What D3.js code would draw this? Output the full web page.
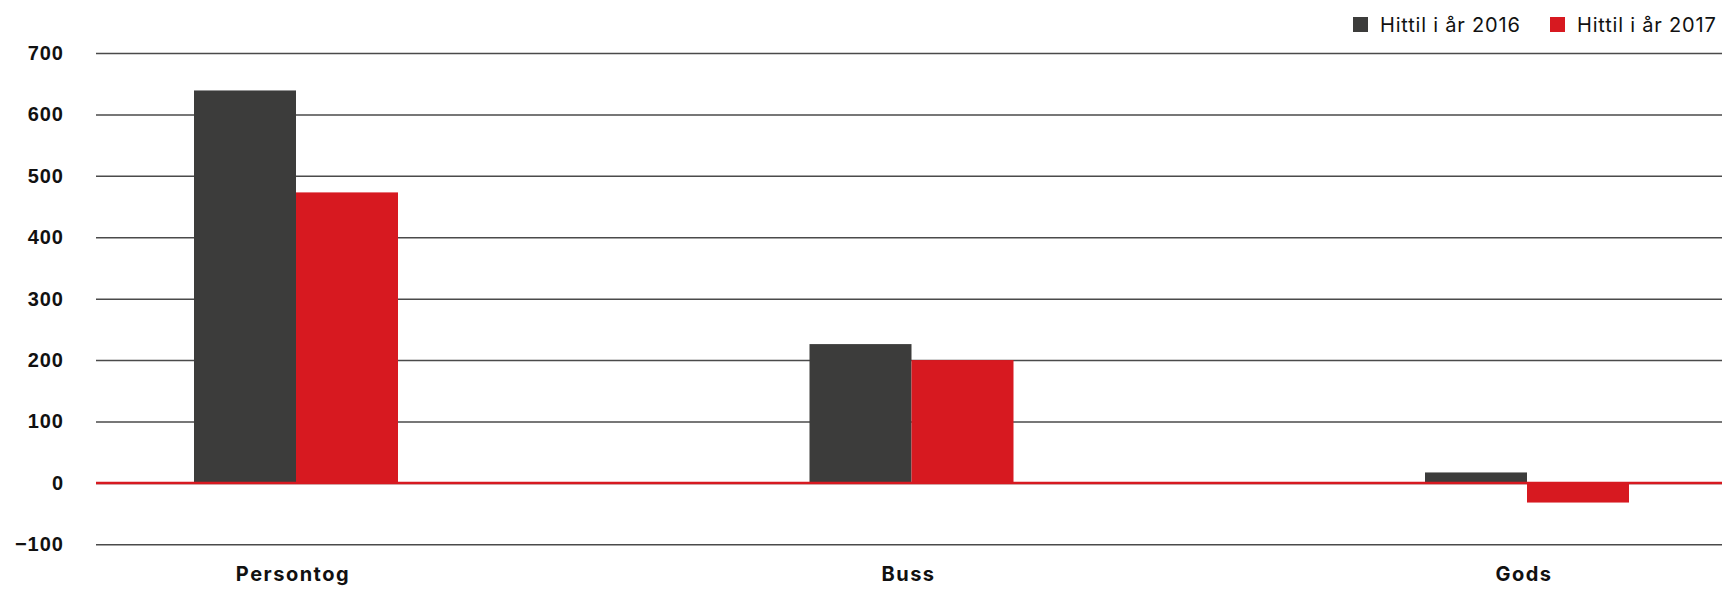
<!DOCTYPE html>
<html lang="no">
<head>
    <meta charset="UTF-8">
    <title>Hittil i år</title>
    <style>
        body { margin: 0; background: #fff; }
        .axis text { font-family: "Liberation Sans", Arial, sans-serif; font-weight: bold; font-size: 20px; fill: #111; letter-spacing: 1px; }
        .axis line { stroke: #4a4a4a; stroke-width: 1.5; }
        .axis .domain { display: none; }
        .cat { font-family: Inter, "Liberation Sans", sans-serif; font-weight: bold; font-size: 20px; fill: #111; letter-spacing: 1.5px; }
        .legend text { font-family: Inter, "Liberation Sans", sans-serif; font-size: 20px; fill: #111; letter-spacing: 0.8px; }
    </style>
</head>
<body>
<svg id="chart" width="1725" height="589"></svg>
<script src="https://d3js.org/d3.v7.min.js"></script>
<script>
    // data
    const categories = ["Persontog", "Buss", "Gods"];
    const series = ["Hittil i år 2016", "Hittil i år 2017"];
    const values2016 = [639, 226, 17];
    const values2017 = [473, 200, -32];
    const yTicks = [-100, 0, 100, 200, 300, 400, 500, 600, 700];
    const colors = ["#3c3c3b", "#d71920"];

    const svg = d3.select("#chart");
    const left = 96, right = 1722;

    const y = d3.scaleLinear().domain([-100, 700]).range([544.3, 53]);

    // group centres spread across the width
    const x0 = d3.scalePoint().domain(categories).range([296, 1527]);
    const x1 = d3.scaleBand().domain(series).range([-102, 102]);

    // grid + y labels
    svg.append("g")
        .attr("class", "axis")
        .attr("transform", "translate(" + left + ",0)")
        .call(d3.axisLeft(y).tickValues(yTicks).tickSize(-(right - left)).tickPadding(32).tickFormat(d3.format("d")));

    const rows = categories.map((c, i) => ({cat: c, vals: [values2016[i], values2017[i]]}));

    const groups = svg.append("g").selectAll("g")
        .data(rows)
        .enter().append("g")
        .attr("transform", d => "translate(" + x0(d.cat) + ",0)");

    groups.selectAll("rect")
        .data(d => d.vals.map((v, j) => ({key: series[j], v: v, j: j})))
        .enter().append("rect")
        .attr("x", d => x1(d.key))
        .attr("width", x1.bandwidth())
        .attr("y", d => y(Math.max(0, d.v)))
        .attr("height", d => Math.abs(y(d.v) - y(0)))
        .attr("fill", d => colors[d.j]);

    // red zero line on top
    svg.append("line")
        .attr("x1", left).attr("x2", right)
        .attr("y1", y(0)).attr("y2", y(0))
        .attr("stroke", "#d71920")
        .attr("stroke-width", 2.5);

    // category labels
    svg.append("g").selectAll("text")
        .data(categories)
        .enter().append("text")
        .attr("class", "cat")
        .attr("x", d => x0(d) - 3)
        .attr("y", 581)
        .attr("text-anchor", "middle")
        .text(d => d);

    // legend
    const legendX = [1353, 1550];
    const legend = svg.append("g").attr("class", "legend");
    series.forEach((s, i) => {
        legend.append("rect")
            .attr("x", legendX[i]).attr("y", 17)
            .attr("width", 15).attr("height", 15)
            .attr("fill", colors[i]);
        legend.append("text")
            .attr("x", legendX[i] + 27).attr("y", 32)
            .text(s);
    });
</script>
</body>
</html>
